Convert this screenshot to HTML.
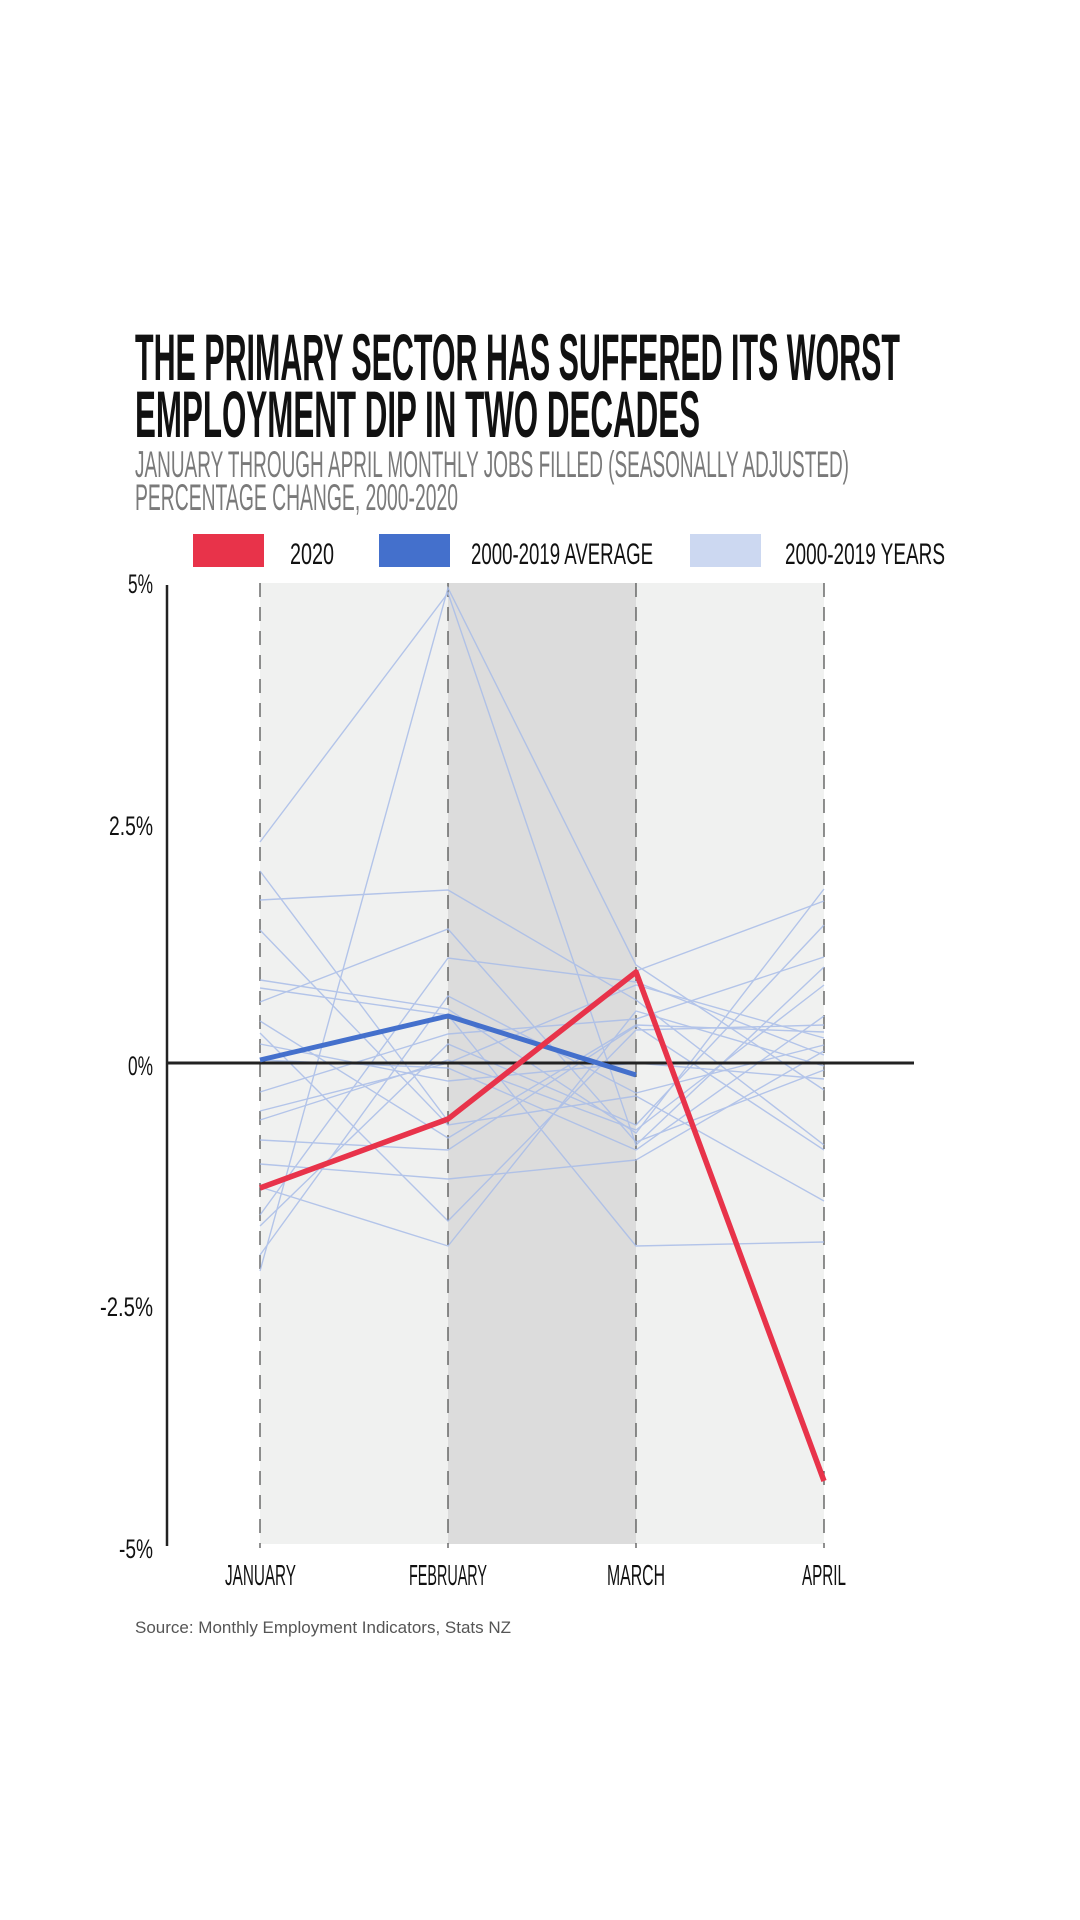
<!DOCTYPE html>
<html><head><meta charset="utf-8"><style>
html,body{margin:0;padding:0;background:#fff;}
svg{display:block;}
</style></head><body>
<svg width="1080" height="1920" viewBox="0 0 1080 1920" xmlns="http://www.w3.org/2000/svg">
<rect width="1080" height="1920" fill="#fff"/>
<g font-family="Liberation Sans Narrow, Liberation Sans, sans-serif">
<text x="135" y="380" font-size="66" font-weight="bold" fill="#111" textLength="765" lengthAdjust="spacingAndGlyphs">THE PRIMARY SECTOR HAS SUFFERED ITS WORST</text>
<text x="135" y="437" font-size="66" font-weight="bold" fill="#111" textLength="565" lengthAdjust="spacingAndGlyphs">EMPLOYMENT DIP IN TWO DECADES</text>
<text x="135" y="477" font-size="37" fill="#7a7a7a" textLength="714" lengthAdjust="spacingAndGlyphs">JANUARY THROUGH APRIL MONTHLY JOBS FILLED (SEASONALLY ADJUSTED)</text>
<text x="135" y="510" font-size="37" fill="#7a7a7a" textLength="323" lengthAdjust="spacingAndGlyphs">PERCENTAGE CHANGE, 2000-2020</text>
<rect x="193" y="534" width="71" height="33" fill="#e8334a"/>
<text x="290" y="564" font-size="30" fill="#111" textLength="44" lengthAdjust="spacingAndGlyphs">2020</text>
<rect x="379" y="534" width="71" height="33" fill="#4470cc"/>
<text x="471" y="564" font-size="30" fill="#111" textLength="182" lengthAdjust="spacingAndGlyphs">2000-2019 AVERAGE</text>
<rect x="690" y="534" width="71" height="33" fill="#ccd8f1"/>
<text x="785" y="564" font-size="30" fill="#111" textLength="160" lengthAdjust="spacingAndGlyphs">2000-2019 YEARS</text>
</g>
<rect x="260" y="583" width="564" height="961" fill="#f0f1f0"/>
<rect x="448" y="583" width="188" height="961" fill="#dcdcdc"/>
<g stroke="#555" stroke-width="1.3" stroke-dasharray="14,10">
<line x1="260" y1="583" x2="260" y2="1548"/><line x1="448" y1="583" x2="448" y2="1548"/>
<line x1="636" y1="583" x2="636" y2="1548"/><line x1="824" y1="583" x2="824" y2="1548"/>
</g>
<line x1="167" y1="585" x2="167" y2="1546" stroke="#222" stroke-width="2.5"/>
<g fill="none" stroke="#a9bde8" stroke-width="1.4" opacity="0.85">
<polyline points="260,842 448,593 636,1145 824,967"/>
<polyline points="260,1271 448,588 636,965 824,1090"/>
<polyline points="260,871 448,1121 636,971 824,901"/>
<polyline points="260,900 448,890 636,1000 824,1145"/>
<polyline points="260,930 448,1125 636,1096 824,1201"/>
<polyline points="260,980 448,1009 636,1133 824,889"/>
<polyline points="260,988 448,1015 636,1246 824,1242"/>
<polyline points="260,1033 448,1221 636,1030 824,1025"/>
<polyline points="260,1044 448,1081 636,1063 824,1079"/>
<polyline points="260,1111 448,1063 636,985 824,1038"/>
<polyline points="260,1140 448,1150 636,1026 824,1150"/>
<polyline points="260,1164 448,1179 636,1160 824,1051"/>
<polyline points="260,1187 448,1246 636,1011 824,1066"/>
<polyline points="260,1226 448,1044 636,1125 824,925"/>
<polyline points="260,1255 448,996 636,1093 824,1045"/>
<polyline points="260,1021 448,1138 636,1025 824,1032"/>
<polyline points="260,1092 448,1034 636,1019 824,957"/>
<polyline points="260,1002 448,929 636,1142 824,1070"/>
<polyline points="260,1060 448,1068 636,1150 824,1016"/>
<polyline points="260,1215 448,958 636,982 824,1055"/>
<polyline points="260,1120 448,1060 636,1130 824,985"/>
</g>
<line x1="167" y1="1063" x2="914" y2="1063" stroke="#222" stroke-width="3"/>
<polyline points="260,1060 448,1016 636,1075" fill="none" stroke="#4470cc" stroke-width="5" stroke-linejoin="round"/>
<polyline points="260,1188 448,1119 636,972 824,1481" fill="none" stroke="#e8334a" stroke-width="5.5" stroke-linejoin="round"/>
<g font-family="Liberation Sans Narrow, Liberation Sans, sans-serif" font-size="27" fill="#111" lengthAdjust="spacingAndGlyphs">
<text x="128" y="593" textLength="25" lengthAdjust="spacingAndGlyphs">5%</text>
<text x="109" y="835" textLength="44" lengthAdjust="spacingAndGlyphs">2.5%</text>
<text x="128" y="1075" textLength="25" lengthAdjust="spacingAndGlyphs">0%</text>
<text x="100" y="1316" textLength="53" lengthAdjust="spacingAndGlyphs">-2.5%</text>
<text x="119" y="1558" textLength="34" lengthAdjust="spacingAndGlyphs">-5%</text>
<text x="225" y="1585" font-size="29" textLength="71" lengthAdjust="spacingAndGlyphs">JANUARY</text>
<text x="409" y="1585" font-size="29" textLength="78" lengthAdjust="spacingAndGlyphs">FEBRUARY</text>
<text x="607" y="1585" font-size="29" textLength="58" lengthAdjust="spacingAndGlyphs">MARCH</text>
<text x="802" y="1585" font-size="29" textLength="44" lengthAdjust="spacingAndGlyphs">APRIL</text>
</g>
<text x="135" y="1633" font-family="Liberation Sans, sans-serif" font-size="17" fill="#555">Source: Monthly Employment Indicators, Stats NZ</text>
</svg>
</body></html>
